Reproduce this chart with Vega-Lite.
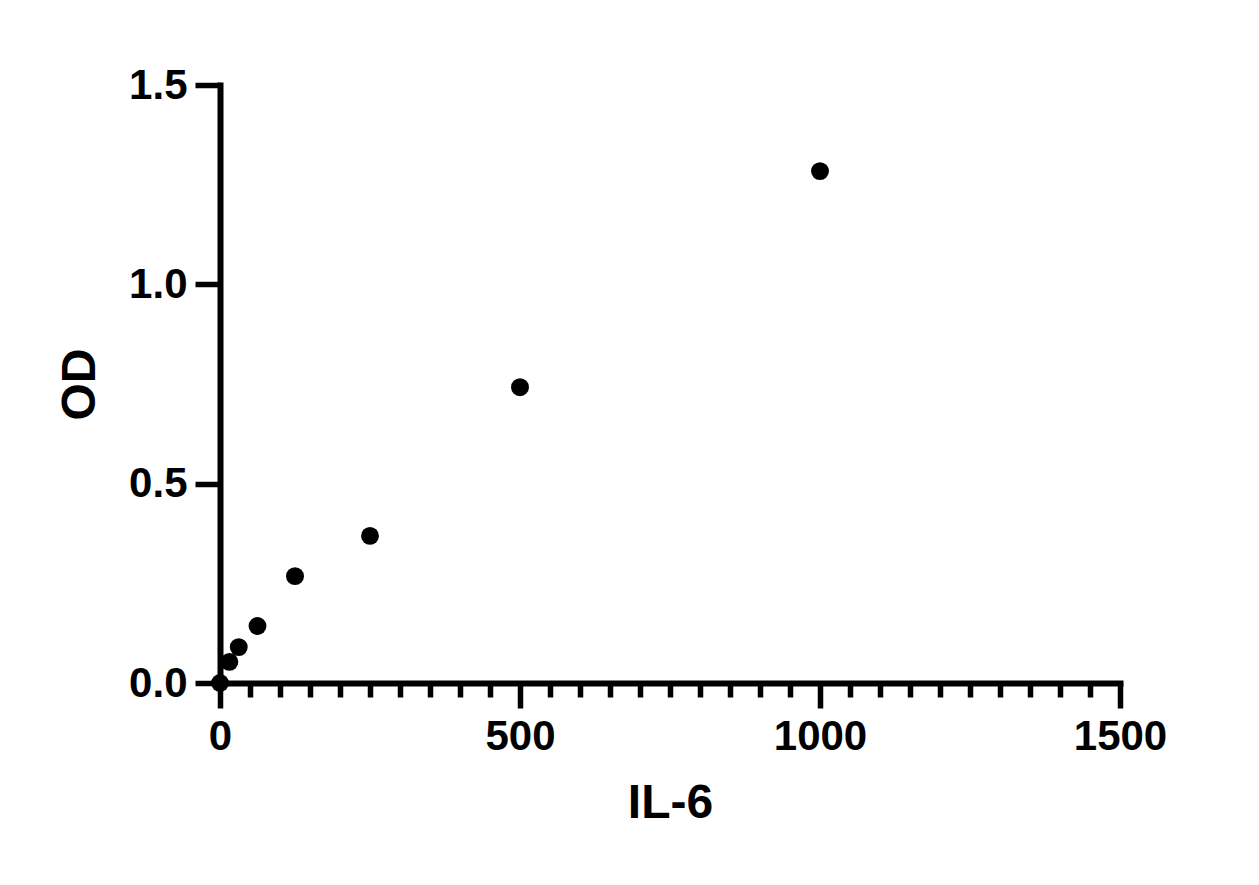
{
  "$schema": "https://vega.github.io/schema/vega-lite/v6.json",
  "autosize": "none",
  "width": 900,
  "height": 598,
  "padding": {"left": 220, "top": 85, "right": 139, "bottom": 202},
  "background": "white",
  "config": {
    "view": {"stroke": null},
    "font": "Liberation Sans",
    "axis": {
      "grid": false,
      "domainColor": "black",
      "domainWidth": 6,
      "domainCap": "square",
      "tickColor": "black",
      "tickWidth": 5.5,
      "labelFont": "Liberation Sans",
      "labelFontWeight": "bold",
      "labelFontSize": 42,
      "labelColor": "black",
      "titleFont": "Liberation Sans",
      "titleFontWeight": "bold",
      "titleFontSize": 48,
      "titleColor": "black"
    }
  },
  "data": {
    "values": [
      {"conc": 0, "od": 0.0},
      {"conc": 15.625, "od": 0.053},
      {"conc": 31.25, "od": 0.09},
      {"conc": 62.5, "od": 0.143},
      {"conc": 125, "od": 0.268},
      {"conc": 250, "od": 0.369},
      {"conc": 500, "od": 0.742},
      {"conc": 1000, "od": 1.284}
    ]
  },
  "mark": {"type": "point", "filled": true, "color": "black", "opacity": 1, "size": 320, "clip": false},
  "encoding": {
    "x": {
      "field": "conc",
      "type": "quantitative",
      "title": "IL-6",
      "scale": {"domain": [0, 1500], "nice": false, "zero": true},
      "axis": {
        "values": [0, 50, 100, 150, 200, 250, 300, 350, 400, 450, 500, 550, 600, 650, 700, 750, 800, 850, 900, 950, 1000, 1050, 1100, 1150, 1200, 1250, 1300, 1350, 1400, 1450, 1500],
        "tickSize": {"condition": {"test": "datum.value % 500 === 0", "value": 25}, "value": 14},
        "labelExpr": "datum.value % 500 === 0 ? datum.label : ''",
        "format": "d",
        "labelPadding": 8,
        "labelFlush": false,
        "labelOverlap": false,
        "titlePadding": 22
      }
    },
    "y": {
      "field": "od",
      "type": "quantitative",
      "title": "OD",
      "scale": {"domain": [0, 1.5], "nice": false},
      "axis": {
        "values": [0, 0.5, 1.0, 1.5],
        "format": ".1f",
        "tickSize": 25,
        "labelPadding": 8,
        "labelFlush": false,
        "titlePadding": 24
      }
    }
  }
}
